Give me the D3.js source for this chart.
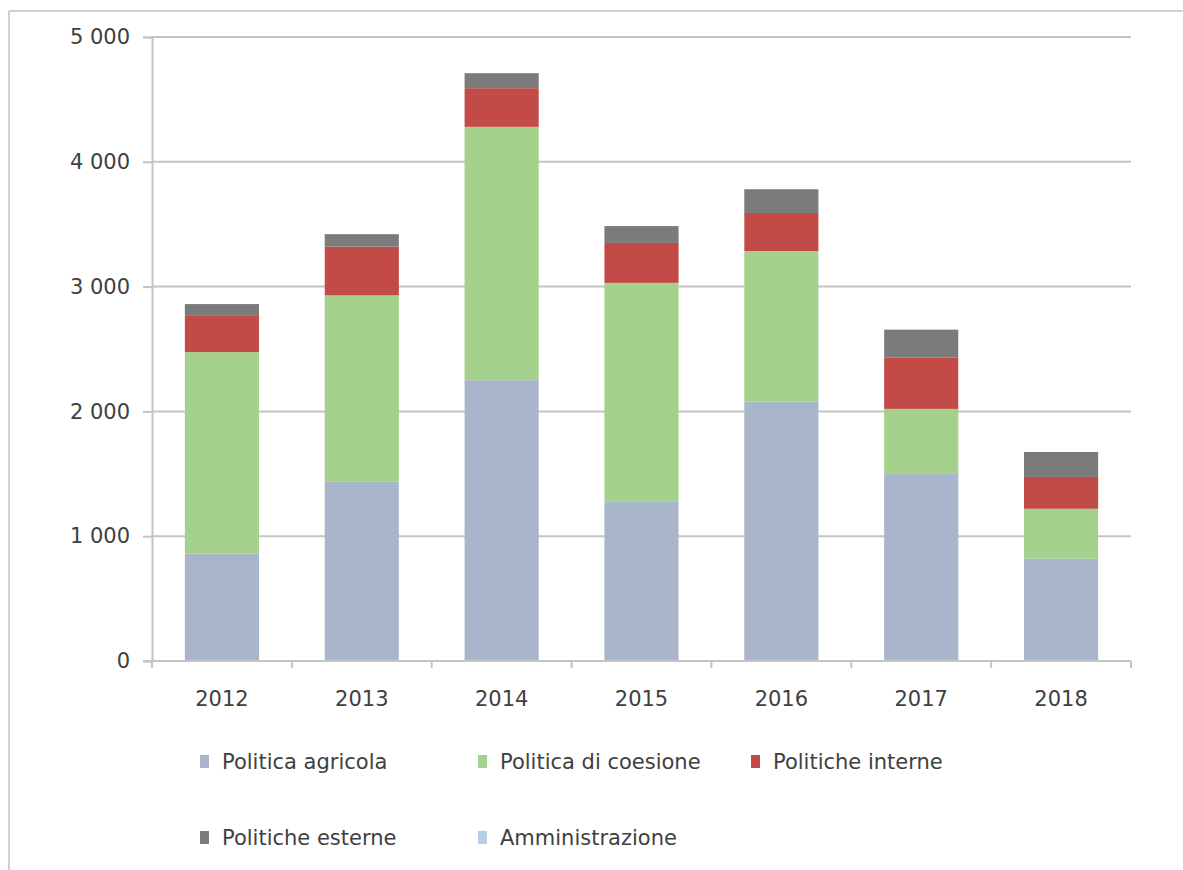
<!DOCTYPE html>
<html>
<head>
<meta charset="utf-8">
<script src="https://cdn.jsdelivr.net/npm/d3@7/dist/d3.min.js"></script>
<style>
  html, body { margin: 0; padding: 0; background: #ffffff; }
  svg { display: block; }
  text { font-family: "DejaVu Sans", "Liberation Sans", sans-serif; fill: #404040; }
</style>
</head>
<body>
<svg id="chart" width="1183" height="870"></svg>
<script>
// ---- Data ----
const years = ["2012", "2013", "2014", "2015", "2016", "2017", "2018"];
const politicaAgricola   = [860, 1440, 2250, 1280, 2080, 1505, 820];
const politicaCoesione   = [1615, 1490, 2030, 1750, 1205, 515, 400];
const politicheInterne   = [290, 390, 310, 320, 305, 410, 255];
const politicheEsterne   = [95, 100, 120, 135, 190, 225, 200];
const amministrazione    = [0, 0, 0, 0, 0, 0, 0];
const seriesNames = ["Politica agricola", "Politica di coesione", "Politiche interne", "Politiche esterne", "Amministrazione"];
const seriesValues = [politicaAgricola, politicaCoesione, politicheInterne, politicheEsterne, amministrazione];
const seriesColors = ["#a9b5ca", "#a4d18b", "#c24b47", "#7b7b7b", "#b7cde6"];
const yTicks = [0, 1000, 2000, 3000, 4000, 5000];

// ---- Layout ----
const svg = d3.select("#chart");
const pL = 152, pR = 1131, pT = 37, pB = 661;

// frame
svg.append("line").attr("x1", 9).attr("x2", 1183).attr("y1", 11).attr("y2", 11)
  .attr("stroke", "#d0d0d0").attr("stroke-width", 2);
svg.append("line").attr("x1", 9).attr("x2", 9).attr("y1", 11).attr("y2", 870)
  .attr("stroke", "#d0d0d0").attr("stroke-width", 2);

const x = d3.scaleBand().domain(years).range([pL, pR]).paddingInner(0.47).paddingOuter(0.235);
const xb = d3.scaleBand().domain(years).range([pL, pR]).padding(0);
const y = d3.scaleLinear().domain([0, 5000]).range([pB, pT]);

// gridlines
svg.append("g").selectAll("line").data(yTicks.filter(d => d > 0)).join("line")
  .attr("x1", pL).attr("x2", pR)
  .attr("y1", d => y(d)).attr("y2", d => y(d))
  .attr("stroke", "#c4c4c4").attr("stroke-width", 2);

// stacked data
const rows = years.map((yr, i) => {
  const o = { year: yr };
  seriesNames.forEach((n, k) => o[n] = seriesValues[k][i]);
  return o;
});
const stack = d3.stack().keys(seriesNames)(rows);

svg.append("g").selectAll("g").data(stack).join("g")
  .attr("fill", (d, i) => seriesColors[i])
  .selectAll("rect").data(d => d).join("rect")
  .attr("x", d => x(d.data.year))
  .attr("width", x.bandwidth())
  .attr("y", d => y(d[1]))
  .attr("height", d => y(d[0]) - y(d[1]));

// y axis
const yAxis = d3.axisLeft(y).tickValues(yTicks).tickSize(9).tickPadding(13)
  .tickFormat(d => d3.format(",")(d).replace(/,/g, " "));
const gy = svg.append("g").attr("transform", `translate(${pL},0)`).call(yAxis);
gy.select(".domain").attr("stroke", "#c4c4c4").attr("stroke-width", 2);
gy.selectAll(".tick line").attr("stroke", "#c4c4c4").attr("stroke-width", 2);
gy.selectAll(".tick text").attr("font-size", 21).attr("fill", "#404040")
  .attr("font-family", "DejaVu Sans, sans-serif");

// x axis
const gx = svg.append("g").attr("transform", `translate(0,${pB})`);
gx.append("line").attr("x1", pL - 9).attr("x2", pR).attr("y1", 0).attr("y2", 0)
  .attr("stroke", "#c4c4c4").attr("stroke-width", 2);
const boundaries = years.map(d => xb(d)).concat([pR]);
gx.selectAll("line.tk").data(boundaries).join("line").attr("class", "tk")
  .attr("x1", d => d).attr("x2", d => d).attr("y1", 0).attr("y2", 7)
  .attr("stroke", "#c4c4c4").attr("stroke-width", 2);
gx.selectAll("text").data(years).join("text")
  .attr("x", d => xb(d) + xb.bandwidth() / 2)
  .attr("y", 45)
  .attr("text-anchor", "middle")
  .attr("font-size", 21)
  .text(d => d);

// legend
const legendPos = [
  { x: 200, y: 762 }, { x: 478, y: 762 }, { x: 751, y: 762 },
  { x: 200, y: 838 }, { x: 478, y: 838 }
];
const lg = svg.append("g").selectAll("g").data(seriesNames).join("g")
  .attr("transform", (d, i) => `translate(${legendPos[i].x},${legendPos[i].y})`);
lg.append("rect").attr("x", 0).attr("y", -7).attr("width", 9).attr("height", 13)
  .attr("fill", (d, i) => seriesColors[i]);
lg.append("text").attr("x", 22).attr("y", 0).attr("dy", "0.35em")
  .attr("font-size", 21).text(d => d);
</script>
</body>
</html>
